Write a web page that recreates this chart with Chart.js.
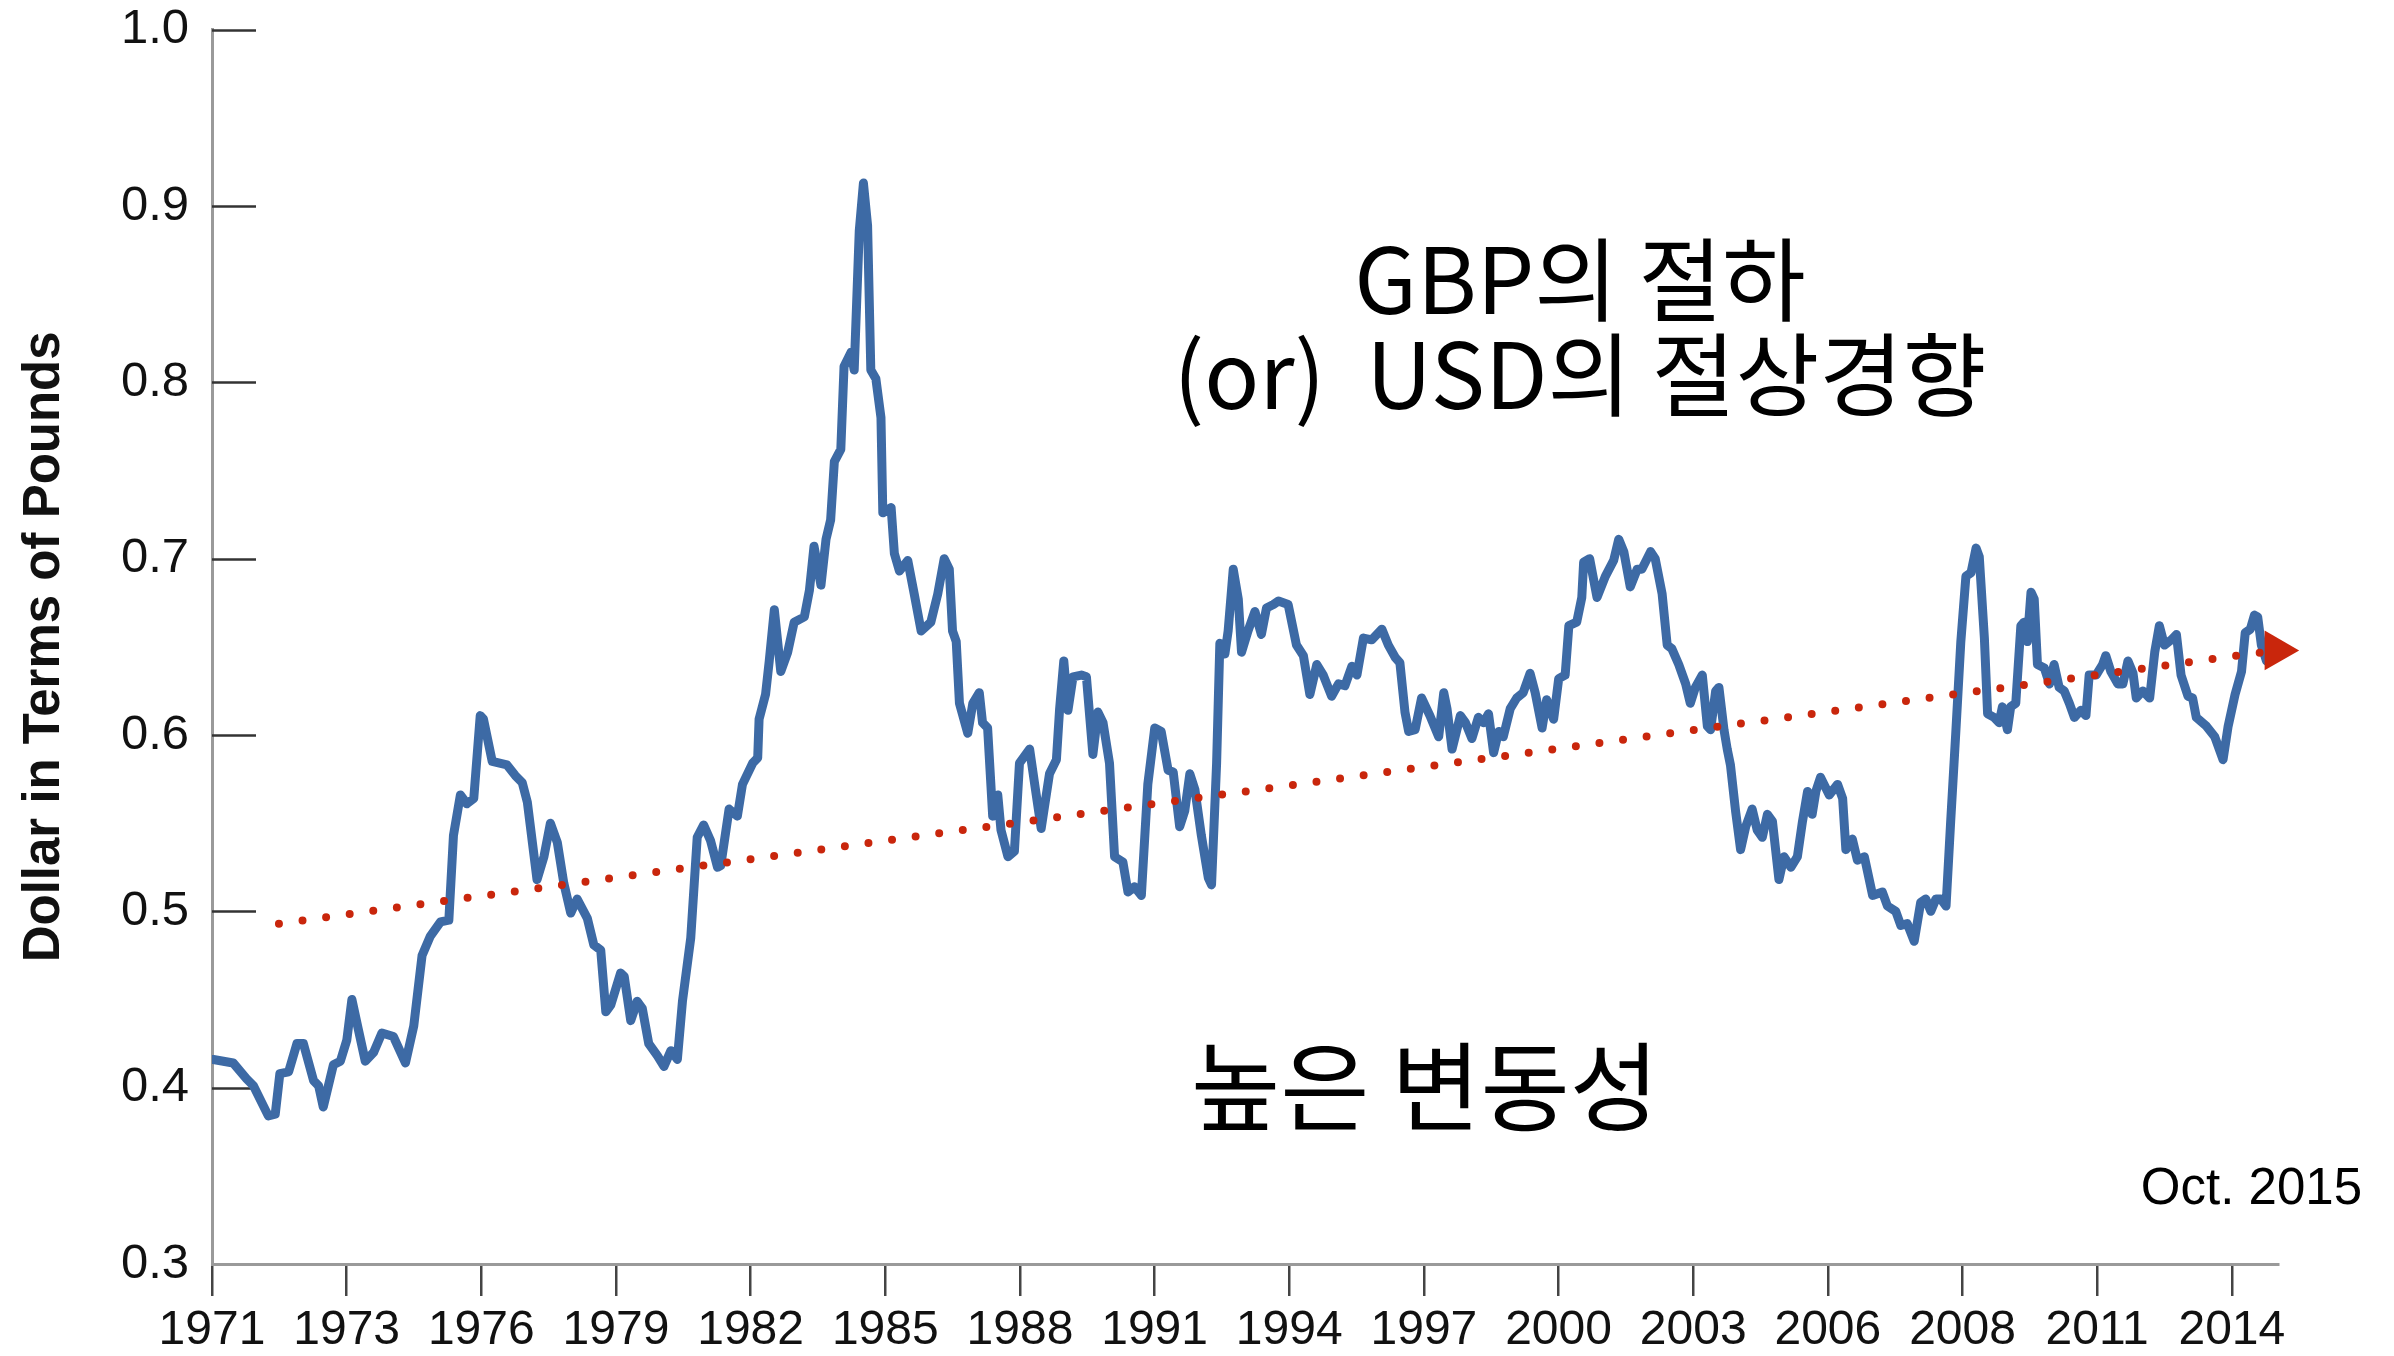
<!DOCTYPE html>
<html>
<head>
<meta charset="utf-8">
<script src="https://cdn.jsdelivr.net/npm/chart.js@4.4.1/dist/chart.umd.min.js"></script>
<style>
  html, body { margin: 0; padding: 0; background: #fff; }
  #wrap { width: 2394px; height: 1356px; }
</style>
</head>
<body>
<div id="wrap"><canvas id="fx"></canvas></div>
<script>
// dollar in terms of pounds (decimal years)
const years = [
  1971.00, 1971.03, 1971.46, 1971.75, 1971.90, 1972.22, 1972.37, 1972.47, 1972.66, 1972.84,
  1972.98, 1973.20, 1973.31, 1973.41, 1973.63, 1973.78, 1973.92, 1974.03, 1974.17, 1974.32,
  1974.50, 1974.68, 1974.93, 1975.19, 1975.37, 1975.55, 1975.73, 1975.95, 1976.13, 1976.23,
  1976.38, 1976.52, 1976.67, 1976.81, 1976.88, 1977.07, 1977.39, 1977.57, 1977.72, 1977.83,
  1978.04, 1978.19, 1978.33, 1978.48, 1978.62, 1978.77, 1978.91, 1979.13, 1979.27, 1979.42,
  1979.53, 1979.64, 1979.85, 1979.93, 1980.07, 1980.21, 1980.32, 1980.46, 1980.65, 1980.79,
  1980.94, 1981.08, 1981.19, 1981.37, 1981.51, 1981.65, 1981.80, 1981.95, 1982.02, 1982.20,
  1982.38, 1982.49, 1982.71, 1982.82, 1982.85, 1982.99, 1983.07, 1983.18, 1983.32, 1983.47,
  1983.61, 1983.83, 1983.94, 1984.04, 1984.19, 1984.30, 1984.40, 1984.48, 1984.62, 1984.69,
  1984.84, 1984.91, 1985.02, 1985.11, 1985.20, 1985.27, 1985.38, 1985.49, 1985.53, 1985.71,
  1985.78, 1985.89, 1986.07, 1986.21, 1986.36, 1986.57, 1986.72, 1986.86, 1986.97, 1987.04,
  1987.12, 1987.19, 1987.37, 1987.48, 1987.62, 1987.69, 1987.80, 1987.91, 1988.02, 1988.09,
  1988.24, 1988.38, 1988.49, 1988.71, 1988.82, 1988.96, 1989.14, 1989.29, 1989.36, 1989.45,
  1989.54, 1989.65, 1989.83, 1989.94, 1990.08, 1990.19, 1990.30, 1990.44, 1990.55, 1990.73,
  1990.84, 1990.98, 1991.13, 1991.27, 1991.42, 1991.56, 1991.71, 1991.82, 1991.96, 1992.07,
  1992.18, 1992.29, 1992.43, 1992.58, 1992.65, 1992.76, 1992.83, 1992.94, 1993.01, 1993.12,
  1993.23, 1993.30, 1993.44, 1993.59, 1993.73, 1993.84, 1993.99, 1994.10, 1994.31, 1994.49,
  1994.64, 1994.78, 1994.93, 1995.07, 1995.25, 1995.40, 1995.54, 1995.69, 1995.80, 1995.94,
  1996.12, 1996.34, 1996.48, 1996.63, 1996.73, 1996.84, 1996.92, 1997.06, 1997.20, 1997.38,
  1997.57, 1997.68, 1997.75, 1997.86, 1998.04, 1998.15, 1998.29, 1998.43, 1998.54, 1998.65,
  1998.76, 1998.87, 1998.97, 1999.12, 1999.26, 1999.40, 1999.55, 1999.66, 1999.81, 1999.91,
  2000.06, 2000.17, 2000.31, 2000.39, 2000.56, 2000.67, 2000.71, 2000.84, 2001.00, 2001.18,
  2001.36, 2001.47, 2001.58, 2001.72, 2001.87, 2001.97, 2002.16, 2002.26, 2002.41, 2002.52,
  2002.62, 2002.77, 2002.92, 2003.02, 2003.13, 2003.28, 2003.39, 2003.46, 2003.57, 2003.64,
  2003.75, 2003.82, 2003.89, 2004.00, 2004.11, 2004.22, 2004.36, 2004.47, 2004.58, 2004.69,
  2004.80, 2004.94, 2005.05, 2005.20, 2005.34, 2005.45, 2005.56, 2005.66, 2005.74, 2005.84,
  2006.03, 2006.21, 2006.32, 2006.39, 2006.53, 2006.64, 2006.79, 2006.97, 2007.18, 2007.29,
  2007.47, 2007.58, 2007.72, 2007.87, 2008.01, 2008.12, 2008.23, 2008.34, 2008.45, 2008.56,
  2008.66, 2008.77, 2008.88, 2008.99, 2009.10, 2009.21, 2009.28, 2009.39, 2009.46, 2009.60,
  2009.71, 2009.78, 2009.89, 2009.96, 2010.07, 2010.18, 2010.25, 2010.32, 2010.40, 2010.47,
  2010.54, 2010.69, 2010.80, 2010.90, 2011.01, 2011.12, 2011.23, 2011.34, 2011.48, 2011.59,
  2011.66, 2011.81, 2011.95, 2012.02, 2012.13, 2012.28, 2012.39, 2012.50, 2012.61, 2012.68,
  2012.82, 2012.97, 2013.08, 2013.18, 2013.29, 2013.44, 2013.55, 2013.65, 2013.80, 2013.90,
  2013.98, 2014.20, 2014.38, 2014.56, 2014.67, 2014.82, 2014.96, 2015.04, 2015.15, 2015.24,
  2015.31, 2015.39, 2015.50, 2015.64, 2015.75
];
const rates = [
  0.416, 0.416, 0.414, 0.405, 0.401, 0.384, 0.385, 0.408, 0.409, 0.425,
  0.425, 0.404, 0.401, 0.389, 0.413, 0.415, 0.427, 0.450, 0.433, 0.415,
  0.420, 0.431, 0.429, 0.414, 0.435, 0.475, 0.486, 0.494, 0.495, 0.543,
  0.566, 0.561, 0.564, 0.611, 0.609, 0.585, 0.583, 0.577, 0.573, 0.562,
  0.518, 0.531, 0.550, 0.539, 0.516, 0.499, 0.507, 0.496, 0.481, 0.478,
  0.443, 0.447, 0.465, 0.463, 0.438, 0.449, 0.445, 0.425, 0.418, 0.412,
  0.421, 0.416, 0.449, 0.485, 0.542, 0.549, 0.540, 0.525, 0.526, 0.558,
  0.554, 0.572, 0.584, 0.587, 0.609, 0.623, 0.642, 0.671, 0.636, 0.647,
  0.664, 0.667, 0.682, 0.707, 0.685, 0.711, 0.722, 0.755, 0.762, 0.809,
  0.817, 0.807, 0.886, 0.913, 0.889, 0.807, 0.802, 0.780, 0.726, 0.729,
  0.703, 0.693, 0.699, 0.680, 0.659, 0.664, 0.680, 0.700, 0.694, 0.659,
  0.653, 0.618, 0.601, 0.618, 0.624, 0.607, 0.604, 0.554, 0.566, 0.546,
  0.531, 0.534, 0.584, 0.592, 0.572, 0.547, 0.578, 0.586, 0.615, 0.642,
  0.614, 0.633, 0.634, 0.633, 0.589, 0.613, 0.607, 0.584, 0.531, 0.528,
  0.511, 0.514, 0.509, 0.572, 0.604, 0.602, 0.580, 0.579, 0.548, 0.557,
  0.578, 0.569, 0.543, 0.519, 0.515, 0.584, 0.652, 0.646, 0.659, 0.694,
  0.677, 0.647, 0.659, 0.670, 0.657, 0.672, 0.674, 0.676, 0.674, 0.651,
  0.645, 0.623, 0.640, 0.634, 0.622, 0.629, 0.628, 0.639, 0.634, 0.655,
  0.654, 0.660, 0.651, 0.644, 0.641, 0.613, 0.602, 0.603, 0.621, 0.611,
  0.599, 0.624, 0.615, 0.592, 0.611, 0.607, 0.598, 0.610, 0.607, 0.612,
  0.590, 0.602, 0.599, 0.615, 0.621, 0.624, 0.635, 0.624, 0.604, 0.620,
  0.609, 0.632, 0.634, 0.662, 0.664, 0.678, 0.698, 0.700, 0.678, 0.690,
  0.699, 0.711, 0.704, 0.684, 0.694, 0.694, 0.704, 0.700, 0.680, 0.651,
  0.649, 0.640, 0.629, 0.618, 0.627, 0.634, 0.605, 0.603, 0.625, 0.627,
  0.603, 0.592, 0.583, 0.557, 0.535, 0.548, 0.558, 0.546, 0.542, 0.555,
  0.551, 0.518, 0.531, 0.525, 0.531, 0.551, 0.568, 0.555, 0.568, 0.576,
  0.566, 0.572, 0.564, 0.535, 0.541, 0.529, 0.531, 0.509, 0.511, 0.503,
  0.500, 0.492, 0.493, 0.483, 0.505, 0.507, 0.500, 0.507, 0.507, 0.503,
  0.551, 0.601, 0.653, 0.690, 0.692, 0.706, 0.701, 0.655, 0.612, 0.610,
  0.607, 0.616, 0.603, 0.616, 0.618, 0.662, 0.664, 0.653, 0.681, 0.677,
  0.640, 0.638, 0.629, 0.640, 0.627, 0.625, 0.618, 0.610, 0.614, 0.611,
  0.634, 0.634, 0.640, 0.645, 0.636, 0.629, 0.629, 0.642, 0.635, 0.621,
  0.625, 0.621, 0.647, 0.662, 0.651, 0.654, 0.657, 0.634, 0.622, 0.621,
  0.610, 0.605, 0.599, 0.586, 0.605, 0.623, 0.636, 0.658, 0.660, 0.668,
  0.667, 0.651, 0.642, 0.651, 0.653
];

// red dotted trend arrow: start and arrow-head points
const trendYears = [1972.45, 2015.71];
const trendValues = [0.493, 0.648];

// x tick labels, one every 35 months from Jan 1971
const xTickLabels = ['1971', '1973', '1976', '1979', '1982', '1985', '1988', '1991',
  '1994', '1997', '2000', '2003', '2006', '2008', '2011', '2014'];
const xTickStartYear = 1971;
const xTickStepMonths = 35;
const yTicks = [0.3, 0.4, 0.5, 0.6, 0.7, 0.8, 0.9, 1.0];

const notes = {
  line1: 'GBP의 절하',
  line2: '(or)  USD의 절상경향',
  line3: '높은 변동성',
  stamp: 'Oct. 2015'
};

const latin = '"Liberation Sans", Arial, Helvetica, sans-serif';
const korean = '"Noto Sans CJK KR", "Noto Sans", sans-serif';

// y ticks point inward from the axis, plus the text notes
const extras = {
  id: 'extras',
  beforeDatasetsDraw(chart) {
    const { ctx, chartArea } = chart;
    const y = chart.scales.y;
    ctx.save();
    ctx.strokeStyle = '#333';
    ctx.lineWidth = 2.5;
    yTicks.slice(1).forEach(v => {
      const py = Math.round(y.getPixelForValue(v)) + 0.5;
      ctx.beginPath();
      ctx.moveTo(chartArea.left, py);
      ctx.lineTo(chartArea.left + 44, py);
      ctx.stroke();
    });
    ctx.restore();
  },
  afterDraw(chart) {
    const ctx = chart.ctx;
    ctx.save();
    ctx.fillStyle = '#000';
    ctx.textAlign = 'center';
    ctx.textBaseline = 'middle';
    ctx.font = '91px ' + korean;
    ctx.fillText(notes.line1, 1580, 279);
    ctx.fillText(notes.line2, 1580, 374);
    ctx.font = '97px ' + korean;
    ctx.fillText(notes.line3, 1425, 1086);
    ctx.textAlign = 'right';
    ctx.font = '51px ' + latin;
    ctx.fillText(notes.stamp, 2362, 1190);
    ctx.restore();
  }
};

new Chart(document.getElementById('fx'), {
  type: 'line',
  data: {
    datasets: [
      {
        label: 'trend',
        data: trendYears.map((x, i) => ({ x: x, y: trendValues[i] })),
        borderColor: '#c9260c',
        borderWidth: 8,
        borderDash: [0, 23.8],
        borderCapStyle: 'round',
        pointStyle: 'triangle',
        rotation: 90,
        pointRadius: [0, 23],
        pointBackgroundColor: '#c9260c',
        pointBorderColor: '#c9260c',
        pointBorderWidth: 0,
        clip: false,
      },
      {
        label: 'USD/GBP',
        data: years.map((x, i) => ({ x: x, y: rates[i] })),
        borderColor: '#3d6aa5',
        borderWidth: 9,
        borderJoinStyle: 'round',
        pointRadius: 0,
        tension: 0,
      }
    ]
  },
  options: {
    responsive: true,
    maintainAspectRatio: false,
    animation: false,
    events: [],
    layout: { padding: { top: 5, right: 116, bottom: 0, left: 0 } },
    plugins: {
      legend: { display: false },
      tooltip: { enabled: false },
    },
    scales: {
      x: {
        type: 'linear',
        min: 1971,
        max: 2015.75,
        afterBuildTicks: s => {
          s.ticks = xTickLabels.map((_, i) => ({ value: xTickStartYear + i * xTickStepMonths / 12 }));
        },
        afterFit: s => { s.height = 92; },
        ticks: {
          autoSkip: false,
          maxRotation: 0,
          padding: 6,
          color: '#111',
          font: { family: latin, size: 48 },
          callback: (v, i) => xTickLabels[i],
        },
        grid: {
          drawOnChartArea: false,
          drawTicks: true,
          tickLength: 32,
          color: '#444',
          lineWidth: 2.5,
        },
        border: { display: true, color: '#9a9a9a', width: 3 },
      },
      y: {
        min: 0.3,
        max: 1.0,
        afterBuildTicks: s => { s.ticks = yTicks.map(v => ({ value: v })); },
        afterFit: s => { s.width = 212; },
        ticks: {
          padding: 15,
          color: '#111',
          font: { family: latin, size: 49, lineHeight: 0.6 },
          callback: v => v.toFixed(1),
        },
        grid: { display: false },
        border: { display: true, color: '#9a9a9a', width: 3 },
        title: {
          display: true,
          text: 'Dollar in Terms of Pounds',
          color: '#111',
          font: { family: latin, size: 51, weight: 'bold' },
          padding: { top: 14, bottom: 0 },
        },
      },
    },
  },
  plugins: [extras],
});
</script>
</body>
</html>
